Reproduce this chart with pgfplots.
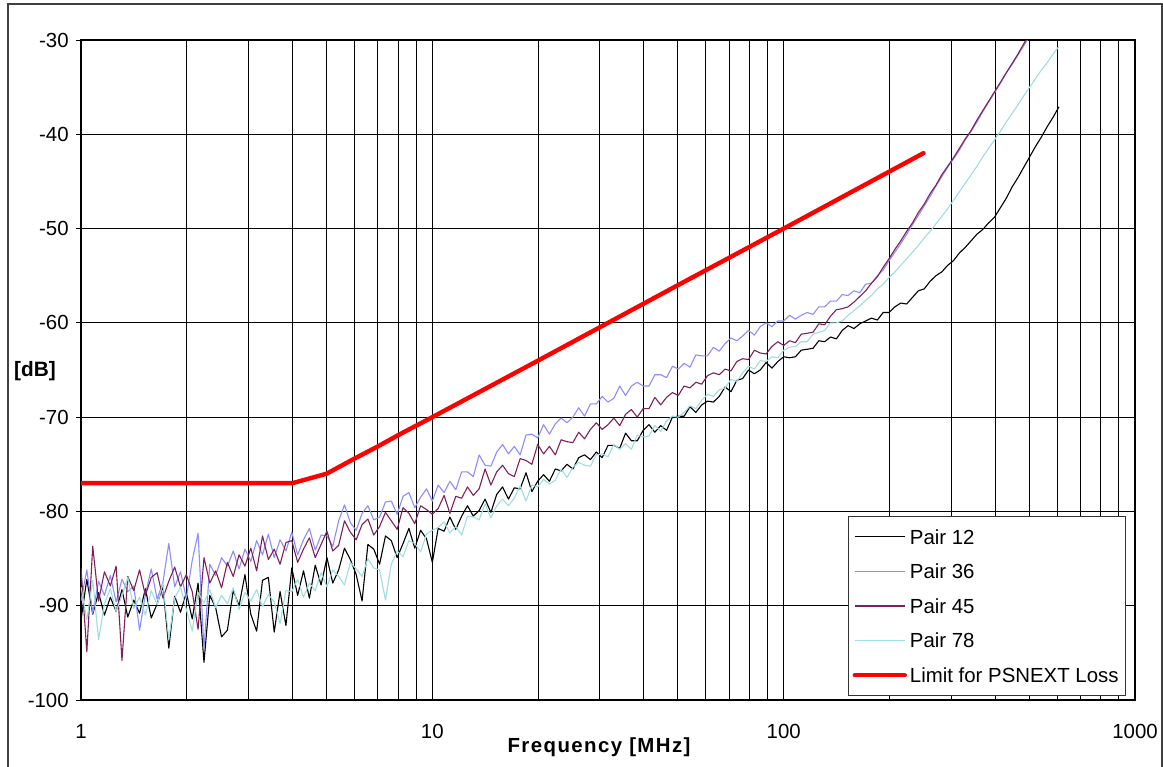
\documentclass[border=0pt]{standalone}
\usepackage{fontspec}
\setmainfont{Liberation Sans}
\newfontfamily\spacedfont[LetterSpace=7]{Liberation Sans}
\usepackage{pgfplots}
\usepackage{pgfplotstable}
\pgfplotsset{compat=1.18}
\definecolor{c12}{HTML}{000000}
\definecolor{c36}{HTML}{8C8CFF}
\definecolor{c45}{HTML}{80205A}
\definecolor{c78}{HTML}{9EDEDE}
\definecolor{climit}{HTML}{FF0000}

\pgfplotstableread{
f p12 p36 p45 p78
1 -91.5 -89.5 -86.0 -88.0
1.039 -87.2 -86.2 -94.9 -91.5
1.080 -90.9 -90.8 -83.7 -87.3
1.122 -88.6 -87.4 -89.5 -93.6
1.166 -91.0 -88.9 -86.4 -89.8
1.212 -89.1 -86.8 -87.9 -88.2
1.259 -90.6 -89.6 -85.8 -90.6
1.308 -88.3 -87.2 -95.8 -88.9
1.359 -91.2 -88.5 -86.9 -87.0
1.413 -89.4 -87.9 -88.4 -90.3
1.468 -90.8 -92.6 -86.2 -89.1
1.525 -88.2 -88.8 -88.9 -91.0
1.585 -91.3 -86.1 -87.0 -88.4
1.647 -89.8 -89.3 -86.5 -89.9
1.711 -87.9 -87.5 -89.2 -87.6
1.778 -94.5 -83.4 -87.4 -93.6
1.848 -89.0 -88.0 -85.9 -89.2
1.920 -90.7 -86.4 -88.0 -88.0
1.995 -88.6 -89.2 -86.7 -90.4
2.073 -91.4 -85.2 -88.5 -92.7
2.154 -87.6 -82.3 -92.5 -88.6
2.239 -96.0 -94.6 -84.9 -89.7
2.326 -88.9 -85.6 -87.6 -88.3
2.417 -90.2 -86.8 -86.3 -90.2
2.512 -93.3 -84.9 -88.1 -88.9
2.610 -92.6 -85.8 -85.4 -89.8
2.712 -88.4 -84.2 -86.9 -88.1
2.818 -90.0 -86.1 -84.6 -90.4
2.929 -86.7 -84.0 -85.8 -88.6
3.043 -90.9 -85.3 -83.9 -89.5
3.162 -92.7 -83.1 -86.3 -88.3
3.286 -87.3 -84.6 -82.6 -90.1
3.415 -87.0 -82.4 -85.1 -88.8
3.548 -92.8 -84.9 -84.0 -89.6
3.687 -88.5 -83.0 -85.6 -91.9
3.831 -92.1 -84.2 -83.3 -88.4
3.981 -86.0 -82.2 -83.1 -88.5
4.137 -88.9 -84.6 -85.4 -87.2
4.299 -86.3 -83.0 -84.0 -89.1
4.467 -89.2 -81.8 -82.8 -87.6
4.642 -85.7 -84.1 -84.9 -88.4
4.824 -87.8 -82.5 -83.5 -86.5
5.012 -84.9 -82.6 -82.1 -88.0
5.208 -87.6 -83.7 -84.2 -86.2
5.412 -86.2 -81.0 -83.6 -86.9
5.623 -83.9 -79.3 -81.0 -87.8
5.843 -85.1 -81.2 -82.2 -85.4
6.072 -86.7 -82.0 -83.0 -86.1
6.310 -89.5 -80.2 -81.4 -86.9
6.556 -83.5 -79.4 -80.8 -85.0
6.813 -84.0 -80.9 -82.5 -86.0
7.079 -85.6 -80.6 -81.6 -86.2
7.356 -82.6 -79.0 -80.1 -89.4
7.644 -83.1 -78.9 -81.0 -85.6
7.943 -84.9 -80.3 -81.9 -84.2
8.254 -83.4 -78.4 -79.6 -84.8
8.577 -81.8 -78.0 -80.2 -83.1
8.913 -83.9 -79.6 -81.3 -83.4
9.261 -82.0 -78.5 -79.4 -84.3
9.624 -82.9 -77.6 -79.8 -82.4
10 -85.4 -78.9 -80.3 -82.0
10.39 -81.8 -77.2 -79.7 -81.7
10.80 -82.1 -78.0 -78.3 -81.1
11.22 -80.6 -76.8 -80.2 -82.3
11.66 -81.9 -77.7 -78.4 -81.6
12.12 -80.5 -75.8 -78.6 -82.5
12.59 -79.4 -75.8 -77.4 -80.5
13.08 -80.5 -76.3 -78.3 -80.6
13.59 -79.9 -74.0 -77.6 -80.9
14.13 -78.7 -75.1 -75.5 -79.2
14.68 -80.1 -75.2 -77.2 -80.7
15.25 -78.2 -73.7 -75.8 -79.4
15.85 -77.4 -72.9 -75.1 -78.7
16.47 -78.7 -73.9 -76.0 -79.4
17.11 -77.5 -73.1 -76.3 -78.6
17.78 -77.6 -74.0 -74.4 -77.3
18.48 -75.9 -71.9 -74.6 -78.9
19.20 -77.9 -71.8 -75.0 -77.2
19.95 -76.8 -72.2 -72.9 -77.4
20.73 -76.1 -70.8 -73.9 -76.6
21.54 -76.8 -71.8 -73.1 -77.1
22.39 -75.5 -70.7 -74.0 -76.7
23.26 -75.7 -70.1 -72.4 -75.5
24.17 -75.0 -70.6 -72.6 -76.4
25.12 -75.5 -70.0 -72.7 -75.3
26.10 -74.3 -69.0 -71.6 -74.8
27.12 -74.0 -69.9 -72.3 -75.1
28.18 -74.5 -68.6 -71.3 -75.2
29.29 -73.7 -68.6 -70.6 -74.0
30.43 -74.3 -67.8 -71.3 -73.9
31.62 -73.0 -68.4 -70.8 -74.2
32.86 -73.0 -68.0 -70.1 -72.9
34.15 -73.3 -66.7 -70.9 -73.4
35.48 -71.7 -67.7 -69.7 -72.8
36.87 -72.5 -66.7 -69.2 -73.4
38.31 -72.5 -66.3 -70.0 -71.9
39.81 -71.4 -66.7 -69.1 -72.1
41.37 -70.8 -66.7 -69.1 -72.0
42.99 -71.6 -65.5 -67.9 -70.9
44.67 -70.9 -65.5 -68.7 -71.5
46.42 -71.4 -65.8 -67.9 -70.4
48.24 -70.0 -64.6 -67.4 -69.9
50.12 -69.9 -64.9 -67.7 -70.0
52.08 -69.9 -64.3 -66.7 -69.5
54.12 -68.9 -64.7 -66.9 -68.8
56.23 -69.5 -63.4 -66.3 -69.1
58.43 -68.7 -63.5 -66.5 -68.2
60.72 -68.3 -63.5 -65.6 -67.6
63.10 -68.4 -62.6 -65.3 -67.8
65.56 -67.8 -63.0 -65.5 -67.1
68.13 -66.8 -62.2 -64.9 -66.9
70.79 -67.3 -61.6 -65.1 -66.0
73.56 -66.1 -61.9 -64.1 -66.2
76.44 -65.9 -61.4 -63.8 -65.3
79.43 -65.0 -60.8 -63.9 -64.6
82.54 -65.4 -61.3 -62.9 -64.9
85.77 -65.0 -60.4 -63.2 -64.0
89.13 -64.2 -60.0 -63.3 -64.1
92.61 -64.8 -60.4 -62.5 -63.6
96.24 -64.1 -59.8 -62.0 -63.7
100 -63.6 -59.8 -62.4 -62.9
103.9 -63.7 -59.2 -61.9 -62.6
108.0 -63.6 -59.6 -62.1 -62.5
112.2 -62.9 -59.2 -61.2 -62.0
116.6 -62.8 -58.9 -61.1 -62.0
121.2 -62.7 -59.1 -61.0 -61.2
125.9 -61.9 -58.3 -60.1 -61.0
130.8 -62.0 -58.3 -60.2 -60.8
135.9 -61.5 -57.7 -59.3 -60.0
141.3 -61.7 -57.7 -58.6 -60.0
146.8 -60.8 -57.0 -58.5 -59.8
152.5 -60.3 -57.1 -58.3 -59.2
158.5 -60.6 -56.6 -57.8 -58.7
164.7 -60.1 -56.8 -57.2 -58.2
171.1 -59.8 -55.9 -56.6 -57.6
177.8 -59.5 -55.8 -55.8 -57.1
184.8 -59.7 -55.0 -55.1 -56.4
192.0 -58.9 -54.4 -54.1 -55.9
199.5 -58.9 -53.4 -53.2 -55.2
207.3 -58.3 -52.5 -52.2 -54.6
215.4 -57.9 -51.6 -51.3 -53.9
223.9 -58.0 -50.6 -50.3 -53.2
232.6 -57.3 -49.6 -49.4 -52.5
241.7 -56.6 -48.6 -48.3 -51.8
251.2 -56.4 -47.6 -47.4 -51.0
261.0 -55.6 -46.6 -46.3 -50.3
271.2 -55.0 -45.5 -45.4 -49.5
281.8 -54.6 -44.5 -44.3 -48.7
292.9 -53.9 -43.5 -43.4 -47.9
304.3 -53.4 -42.6 -42.5 -47.0
316.2 -52.6 -41.7 -41.5 -46.1
328.6 -52.0 -40.6 -40.5 -45.2
341.5 -51.3 -39.7 -39.6 -44.3
354.8 -50.6 -38.7 -38.5 -43.4
368.7 -50.1 -37.6 -37.5 -42.4
383.1 -49.4 -36.6 -36.5 -41.5
398.1 -48.8 -35.6 -35.5 -40.6
413.7 -47.8 -34.6 -34.5 -39.7
429.9 -46.8 -33.5 -33.5 -38.7
446.7 -45.6 -32.6 -32.5 -37.8
464.2 -44.6 -31.6 -31.5 -36.9
482.4 -43.5 -30.6 -30.4 -35.9
501.2 -42.4 -29.6 -29.4 -35.0
520.8 -41.3 -28.6 -28.4 -34.1
541.2 -40.3 -27.6 -27.4 -33.2
562.3 -39.2 -26.6 -26.4 -32.4
584.3 -38.2 -25.6 -25.4 -31.5
607.2 -37.1 -24.6 -24.4 -30.7
}\pairs

\pgfplotstableread{
f lim
1 -77
4 -77
5 -76.0
6 -74.4
7 -73.1
8 -71.9
9 -70.9
10 -70.0
20 -64.0
50 -56.0
100 -50.0
250 -42.0
}\limitdata

\begin{document}
\begin{tikzpicture}
\path[use as bounding box] (-40.5bp,-33.5bp) rectangle (541bp,350bp);
\begin{axis}[
  scale only axis, width=527bp, height=330bp,
  xmode=log, xmin=1, xmax=1000, ymin=-100, ymax=-30,
  xtick={1,10,100,1000}, xticklabels={1,10,100,1000},
  minor xtick={2,3,4,5,6,7,8,9,20,30,40,50,60,70,80,90,200,300,400,500,600,700,800,900},
  ytick={-100,-90,-80,-70,-60,-50,-40,-30},
  grid=both,
  major grid style={black, line width=0.5bp},
  minor grid style={black, line width=0.5bp},
  axis line style={black, line width=1bp},
  tick align=outside, ytick pos=left,
  major tick length=2.5bp, minor tick length=0pt,
  xtick style={draw=none},
  ytick style={black, line width=0.5bp},
  tick label style={font=\fontsize{10.2bp}{12bp}\selectfont},
  /pgf/number format/assume math mode=true,
  yticklabel style={anchor=east, inner sep=0pt, xshift=-3.5bp},
  xticklabel style={anchor=base, inner sep=0pt, yshift=-16.5bp},
  xlabel={\spacedfont\bfseries Frequency [MHz]},
  xlabel style={at={(rel axis cs:0.4915,0)}, anchor=base, inner sep=0pt, yshift=-26bp, font=\fontsize{10.2bp}{12bp}\selectfont},
  ylabel={\bfseries [dB]},
  every axis y label/.style={at={(rel axis cs:0,0.4985)}, anchor=center, xshift=-23bp, font=\fontsize{10.4bp}{12bp}\selectfont},
  no markers,
  legend style={at={(rel axis cs:0.9915,0.006)}, anchor=south east, draw=black!80, line width=0.5bp, fill=white,
    inner xsep=2bp, inner ysep=5.2bp, row sep=7.4bp, font=\fontsize{10.2bp}{12bp}\selectfont,
    nodes={inner xsep=1.5bp, inner ysep=1bp, text height=7.6bp, text depth=0.3bp}},
  legend cell align=left,
  legend image code/.code={\draw[#1] (0bp,0bp) -- (25bp,0bp);},
]
\addplot[c12, line width=0.55bp, line join=round] table[x=f, y=p12]{\pairs};
\addlegendentry{Pair 12}
\addplot[c36, line width=0.55bp, line join=round] table[x=f, y=p36]{\pairs};
\addlegendentry{Pair 36}
\addplot[c45, line width=0.55bp, line join=round] table[x=f, y=p45]{\pairs};
\addlegendentry{Pair 45}
\addplot[c78, line width=0.55bp, line join=round] table[x=f, y=p78]{\pairs};
\addlegendentry{Pair 78}
\addplot[climit, line width=2.2bp, line cap=round, line join=round] table[x=f, y=lim]{\limitdata};
\addlegendentry{Limit for PSNEXT Loss}
\end{axis}
\draw[black!75, line width=0.6bp] (-36.5bp,-33.5bp) -- (-36.5bp,348bp) -- (540.5bp,348bp) -- (540.5bp,-33.5bp);
\end{tikzpicture}
\end{document}
